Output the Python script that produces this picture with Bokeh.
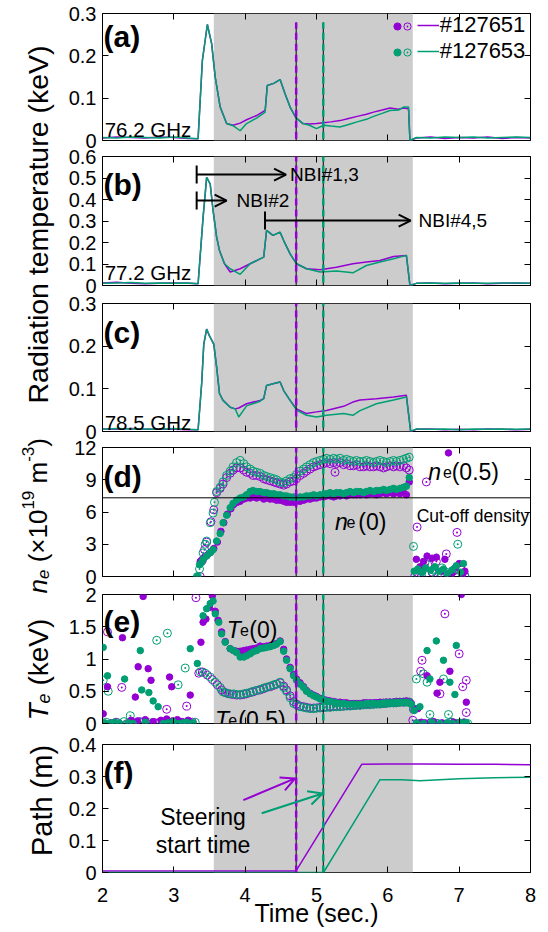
import math
from bokeh.plotting import figure
from bokeh.models import (Range1d, LinearAxis, FixedTicker, BoxAnnotation, Span, Arrow,
                          OpenHead, TeeHead, Label, Legend, LegendItem, CustomLabelingPolicy)
from bokeh.layouts import column, row
from bokeh.embed import file_html
from bokeh.resources import INLINE

FONT = "Liberation Sans"
PURPLE = "#9400D3"
GREEN = "#009E73"
SHADE = "#CCCCCC"
TICK_FS = "20px"

# ------------------------------------------------------------------ data
x_ticks = [2, 3, 4, 5, 6, 7, 8]
nbi_window = [3.56, 6.35]
steer_start_p = 4.715
steer_start_g = 5.095
cutoff_density = 7.32

# (a) 76.2 GHz
t_a = [2.00, 2.20, 2.40, 2.60, 2.80, 3.00, 3.20, 3.34, 3.40, 3.47, 3.53, 3.58, 3.65, 3.74, 3.83,
       3.93, 4.02, 4.16, 4.28, 4.31, 4.40, 4.49, 4.56, 4.63, 4.71, 4.81, 4.90, 5.00, 5.10, 5.20,
       5.33, 5.45, 5.57, 5.70, 5.80, 5.92, 6.03, 6.15, 6.22, 6.29, 6.31, 6.40, 6.60, 6.80, 7.00,
       7.20, 7.40, 7.60, 7.80, 8.00]
a_127651 = [0.006, 0.008, 0.007, 0.006, 0.008, 0.007, 0.005, 0.004, 0.189, 0.274, 0.229, 0.150,
            0.079, 0.040, 0.036, 0.041, 0.049, 0.059, 0.071, 0.130, 0.135, 0.144, 0.110, 0.079,
            0.054, 0.040, 0.039, 0.040, 0.042, 0.044, 0.047, 0.052, 0.057, 0.062, 0.067, 0.072,
            0.077, 0.074, 0.077, 0.075, 0.000, 0.006, 0.008, 0.005, 0.007, 0.006, 0.008, 0.005,
            0.007, 0.006]
a_127653 = [0.007, 0.006, 0.008, 0.007, 0.006, 0.008, 0.006, 0.004, 0.189, 0.274, 0.229, 0.150,
            0.079, 0.040, 0.035, 0.023, 0.040, 0.053, 0.067, 0.130, 0.135, 0.144, 0.110, 0.079,
            0.054, 0.040, 0.036, 0.028, 0.036, 0.034, 0.032, 0.038, 0.044, 0.050, 0.057, 0.064,
            0.071, 0.072, 0.079, 0.079, 0.000, 0.007, 0.006, 0.008, 0.007, 0.008, 0.006, 0.007,
            0.008, 0.007]

# (b) 77.2 GHz
t_b = [2.00, 2.20, 2.40, 2.60, 2.80, 3.00, 3.20, 3.34, 3.41, 3.46, 3.51, 3.55, 3.60, 3.64, 3.71,
       3.79, 3.93, 4.07, 4.21, 4.26, 4.30, 4.39, 4.49, 4.54, 4.63, 4.72, 4.86, 5.05, 5.28, 5.51,
       5.70, 5.89, 6.08, 6.26, 6.31, 6.40, 6.60, 6.80, 7.00, 7.20, 7.40, 7.60, 7.80, 8.00]
b_127651 = [0.012, 0.015, 0.010, 0.008, 0.010, 0.012, 0.010, 0.008, 0.317, 0.503, 0.472, 0.349,
            0.225, 0.163, 0.101, 0.063, 0.078, 0.101, 0.124, 0.132, 0.256, 0.233, 0.248, 0.209,
            0.147, 0.101, 0.078, 0.073, 0.085, 0.101, 0.109, 0.116, 0.135, 0.140, 0.000, 0.010,
            0.012, 0.008, 0.010, 0.012, 0.008, 0.010, 0.012, 0.010]
b_127653 = [0.010, 0.012, 0.014, 0.010, 0.012, 0.010, 0.012, 0.008, 0.317, 0.503, 0.472, 0.349,
            0.225, 0.163, 0.101, 0.078, 0.052, 0.101, 0.124, 0.132, 0.256, 0.233, 0.248, 0.209,
            0.147, 0.101, 0.078, 0.063, 0.067, 0.059, 0.093, 0.109, 0.124, 0.140, 0.000, 0.010,
            0.012, 0.010, 0.012, 0.010, 0.010, 0.012, 0.012, 0.010]

# (c) 78.5 GHz
t_c = [2.00, 2.20, 2.40, 2.60, 2.80, 3.00, 3.20, 3.34, 3.39, 3.42, 3.46, 3.50, 3.56, 3.60, 3.64,
       3.69, 3.79, 3.86, 3.91, 4.02, 4.21, 4.26, 4.30, 4.39, 4.49, 4.54, 4.63, 4.72, 4.86, 5.00,
       5.14, 5.38, 5.51, 5.61, 5.84, 6.08, 6.26, 6.32, 6.40, 6.60, 6.80, 7.00, 7.20, 7.40, 7.60,
       7.80, 8.00]
c_127651 = [0.006, 0.005, 0.007, 0.005, 0.006, 0.005, 0.004, 0.004, 0.112, 0.205, 0.240, 0.224,
            0.205, 0.151, 0.089, 0.073, 0.057, 0.053, 0.055, 0.065, 0.073, 0.077, 0.108, 0.112,
            0.116, 0.096, 0.073, 0.053, 0.042, 0.046, 0.049, 0.059, 0.069, 0.074, 0.077, 0.081,
            0.085, 0.000, 0.005, 0.006, 0.004, 0.005, 0.004, 0.006, 0.005, 0.004, 0.005]
c_127653 = [0.005, 0.007, 0.006, 0.006, 0.005, 0.007, 0.005, 0.004, 0.112, 0.205, 0.240, 0.224,
            0.205, 0.151, 0.089, 0.073, 0.057, 0.053, 0.034, 0.060, 0.071, 0.077, 0.108, 0.112,
            0.116, 0.096, 0.073, 0.050, 0.038, 0.034, 0.038, 0.042, 0.038, 0.049, 0.065, 0.074,
            0.081, 0.000, 0.006, 0.005, 0.006, 0.004, 0.006, 0.005, 0.006, 0.005, 0.006]

# common sampling times of the profile data inside the NBI window
t_prof = [3.93, 3.98, 4.02, 4.07, 4.11, 4.16, 4.21, 4.26, 4.30, 4.35,
          4.40, 4.44, 4.49, 4.54, 4.58, 4.63, 4.68, 4.72, 4.77, 4.82,
          4.86, 4.91, 4.96, 5.00, 5.05, 5.10, 5.14, 5.19, 5.24, 5.28,
          5.33, 5.38, 5.42, 5.47, 5.52, 5.56, 5.61, 5.66, 5.70, 5.75,
          5.80, 5.84, 5.89, 5.94, 5.98, 6.03, 6.08, 6.12, 6.17, 6.22,
          6.26, 6.30]

# (d) n_e(0) filled, n_e(0.5) open
ne0_127653 = [7.3, 7.4, 7.6, 7.9, 8.0, 7.9, 7.9, 7.8, 7.8, 7.7,
              7.7, 7.6, 7.6, 7.5, 7.5, 7.4, 7.4, 7.3, 7.4, 7.4,
              7.5, 7.5, 7.6, 7.5, 7.6, 7.6, 7.7, 7.8, 7.7, 7.8,
              7.8, 7.7, 7.8, 7.9, 7.8, 7.9, 7.9, 7.8, 7.9, 8.0,
              7.9, 8.0, 8.0, 8.1, 8.0, 8.1, 8.2, 8.1, 8.2, 8.3,
              8.4, 9.2]
ne0_127651 = [7.0, 7.2, 7.3, 7.3, 7.4, 7.3, 7.4, 7.2, 7.3, 7.2,
              7.2, 7.1, 7.1, 7.0, 6.9, 6.9, 6.9, 7.0, 7.0, 7.1,
              7.2, 7.2, 7.3, 7.3, 7.4, 7.4, 7.5, 7.5, 7.4, 7.5,
              7.5, 7.6, 7.5, 7.6, 7.6, 7.6, 7.6, 7.7, 7.6, 7.7,
              7.7, 7.6, 7.7, 7.8, 7.7, 7.8, 7.7, 7.8, 7.7, 7.8,
              7.6, 8.8]
ne05_127653 = [10.8, 10.5, 10.2, 10.0, 9.8, 9.7, 9.6, 9.4, 9.3, 9.2,
               9.1, 9.0, 8.8, 8.7, 8.9, 9.1, 9.2, 9.5, 9.8, 10.0,
               10.2, 10.4, 10.6, 10.7, 10.8, 10.9, 11.0, 10.9, 11.0, 10.9,
               11.0, 10.8, 10.9, 10.8, 10.7, 10.8, 10.7, 10.7, 10.8, 10.7,
               10.6, 10.7, 10.8, 10.7, 10.6, 10.7, 10.8, 10.7, 10.8, 10.9,
               11.0, 11.1]
ne05_127651 = [10.1, 9.9, 9.7, 9.6, 9.4, 9.4, 9.3, 9.1, 9.0, 8.9,
               8.8, 8.7, 8.6, 8.5, 8.6, 8.8, 8.9, 9.1, 9.4, 9.6,
               9.8, 10.0, 10.2, 10.3, 10.4, 10.5, 10.6, 10.5, 10.6, 10.5,
               10.6, 10.4, 10.5, 10.3, 10.3, 10.4, 10.2, 10.2, 10.3, 10.2,
               10.2, 10.3, 10.2, 10.1, 10.2, 10.3, 10.2, 10.3, 10.2, 10.3,
               10.1, 9.9]
# points outside the common window (ramp-up and after the discharge)
ne0_127653_xt = [3.33, 3.36, 3.39, 3.41, 3.46, 3.51, 3.55, 3.60, 3.65, 3.69, 3.74, 3.79, 3.83, 3.88,
                 6.37, 6.42, 6.48, 6.53, 6.60, 6.66, 6.72, 6.78, 6.84, 6.90, 6.96, 7.02, 7.06]
ne0_127653_xv = [0.0, 1.1, 1.3, 1.6, 1.9, 2.2, 2.5, 3.3, 4.0, 5.0, 5.7, 6.4, 6.8, 7.1,
                 0.5, 0.7, 0.4, 0.8, 0.6, 0.9, 0.5, 0.7, 0.3, 0.6, 1.0, 0.4, 1.2]
ne0_127651_xt = [3.37, 3.40, 3.43, 3.47, 3.52, 3.56, 3.61, 3.66, 3.70, 3.75, 3.80, 3.84, 3.89,
                 6.40, 6.45, 6.50, 6.55, 6.62, 6.68, 6.75, 6.80, 6.85, 6.90, 6.95, 7.00, 7.05, 7.08]
ne0_127651_xv = [1.4, 1.6, 1.8, 2.0, 2.3, 2.6, 3.2, 4.2, 5.0, 5.8, 6.3, 6.7, 6.9,
                 1.6, 0.9, 1.4, 1.9, 1.7, 1.8, 0.5, 1.6, 11.5, 0.3, 0.8, 1.2, 0.2, 0.5]
ne05_127653_xt = [3.33, 3.36, 3.41, 3.44, 3.46, 3.51, 3.55, 3.57, 3.60, 3.65, 3.69, 3.74, 3.79, 3.83, 3.88,
                  6.36, 6.41, 6.47, 6.52, 6.58, 6.64, 6.70, 6.76, 6.82, 6.88, 6.94, 6.98, 7.04, 7.08]
ne05_127653_xv = [0.0, 0.7, 2.2, 3.0, 3.3, 5.0, 5.9, 6.9, 7.9, 8.3, 8.8, 9.4, 9.8, 10.2, 10.6,
                  2.8, 0.3, 0.5, 1.3, 0.2, 0.6, 0.1, 0.8, 0.4, 0.2, 0.7, 3.0, 0.3, 0.1]
ne05_127651_xt = [3.37, 3.40, 3.43, 3.46, 3.52, 3.56, 3.60, 3.65, 3.69, 3.74, 3.79, 3.83, 3.88, 5.26,
                  6.38, 6.41, 6.46, 6.54, 6.56, 6.62, 6.68, 6.74, 6.82, 6.86, 6.92, 6.97, 7.03, 7.08]
ne05_127651_xv = [0.0, 1.5, 2.5, 3.2, 5.1, 6.2, 7.8, 8.2, 8.6, 9.2, 9.6, 9.9, 10.1, 9.7,
                  0.1, 4.6, 0.3, 8.8, 1.1, 0.4, 1.4, 0.0, 2.1, 0.2, 0.5, 4.1, 0.6, 0.0]

# (e) T_e(0) filled, T_e(0.5) open
te0_127653 = [1.03, 1.03, 1.05, 1.08, 1.11, 1.13, 1.16, 1.17, 1.18, 1.19,
              1.21, 1.23, 1.27, 1.12, 0.98, 0.85, 0.74, 0.67, 0.61, 0.56,
              0.50, 0.46, 0.43, 0.41, 0.38, 0.36, 0.35, 0.34, 0.33, 0.32,
              0.31, 0.31, 0.30, 0.30, 0.30, 0.30, 0.30, 0.30, 0.31, 0.31,
              0.31, 0.31, 0.31, 0.32, 0.32, 0.32, 0.32, 0.33, 0.33, 0.33,
              0.33, 0.32]
te0_127651 = [1.12, 1.13, 1.14, 1.15, 1.16, 1.17, 1.20, 1.19, 1.20, 1.21,
              1.22, 1.24, 1.28, 1.15, 1.00, 0.87, 0.76, 0.69, 0.63, 0.57,
              0.51, 0.47, 0.44, 0.42, 0.39, 0.37, 0.36, 0.35, 0.34, 0.33,
              0.33, 0.32, 0.32, 0.31, 0.31, 0.31, 0.31, 0.32, 0.32, 0.32,
              0.32, 0.32, 0.33, 0.33, 0.33, 0.33, 0.33, 0.34, 0.34, 0.34,
              0.34, 0.33]
te05_127653 = [0.45, 0.46, 0.47, 0.48, 0.50, 0.51, 0.53, 0.55, 0.56, 0.58,
               0.60, 0.61, 0.64, 0.56, 0.50, 0.40, 0.31, 0.29, 0.26, 0.25,
               0.24, 0.23, 0.23, 0.24, 0.24, 0.25, 0.25, 0.25, 0.26, 0.26,
               0.26, 0.27, 0.27, 0.27, 0.28, 0.28, 0.28, 0.29, 0.29, 0.29,
               0.30, 0.30, 0.30, 0.31, 0.31, 0.32, 0.32, 0.32, 0.33, 0.33,
               0.33, 0.33]
te05_127651 = [0.44, 0.45, 0.46, 0.48, 0.49, 0.51, 0.52, 0.54, 0.56, 0.57,
               0.59, 0.61, 0.63, 0.58, 0.52, 0.43, 0.34, 0.30, 0.27, 0.26,
               0.25, 0.24, 0.24, 0.24, 0.25, 0.25, 0.26, 0.26, 0.26, 0.27,
               0.27, 0.27, 0.28, 0.28, 0.28, 0.29, 0.29, 0.29, 0.30, 0.30,
               0.30, 0.31, 0.31, 0.31, 0.32, 0.32, 0.32, 0.33, 0.33, 0.33,
               0.34, 0.33]
te0_127653_xt = [3.41, 3.46, 3.51, 3.55, 3.58, 3.63, 3.67, 3.72, 3.79, 3.84, 3.88,
                 2.01, 2.07, 2.31, 2.53, 2.55, 2.65, 2.71, 2.78, 3.23, 3.33,
                 2.03, 2.10, 2.17, 2.24, 2.36, 2.43, 2.60, 2.85, 2.92, 2.99, 3.06, 3.13, 3.18, 3.27,
                 6.33, 6.37, 6.45, 6.55, 6.59, 6.68, 6.78, 6.87, 6.94, 6.96,
                 6.40, 6.50, 6.62, 6.73, 6.83, 6.91, 7.01, 7.06, 7.10]
te0_127653_xv = [1.67, 1.78, 1.86, 1.90, 1.70, 1.57, 1.39, 1.26, 1.16, 1.13, 1.10,
                 1.18, 0.74, 0.69, 1.13, 0.52, 0.48, 0.35, 0.26, 1.16, 0.93,
                 0.01, 0.00, 0.02, 0.00, 0.01, 0.00, 0.02, 0.00, 0.01, 0.03, 0.00, 0.01, 0.02, 0.01,
                 0.30, 0.20, 0.26, 1.13, 0.69, 1.28, 0.98, 0.64, 0.45, 1.21,
                 0.01, 0.00, 0.02, 0.00, 0.01, 0.00, 0.02, 0.00, 0.01]
te0_127651_xt = [3.38, 3.41, 3.45, 3.50, 3.54, 3.58, 3.62, 3.67, 3.72, 3.79, 3.84, 3.88,
                 2.01, 2.07, 2.28, 2.46, 2.50, 2.57, 2.64, 2.68, 2.94, 2.97, 3.23,
                 2.40, 2.49, 2.60, 2.71, 2.82, 2.90, 2.98, 3.05, 3.12, 3.20,
                 6.33, 6.37, 6.42, 6.55, 6.69, 6.73, 6.87, 7.03, 7.10,
                 6.47, 6.52, 6.64, 6.76, 6.80, 6.92, 6.99, 7.07]
te0_127651_xv = [1.26, 1.57, 1.62, 1.80, 1.98, 1.74, 1.60, 1.42, 1.27, 1.16, 1.13, 1.12,
                 0.15, 0.57, 1.33, 0.41, 0.88, 1.97, 0.85, 0.67, 0.72, 0.57, 0.44,
                 0.05, 0.04, 0.06, 0.03, 0.05, 0.07, 0.04, 0.06, 0.03, 0.05,
                 0.31, 0.22, 0.23, 0.74, 0.47, 0.64, 0.81, 2.00, 0.33,
                 0.02, 0.00, 0.03, 0.01, 0.00, 0.02, 0.00, 0.01]
te05_127653_xt = [3.37, 3.44, 3.51, 3.58, 3.65, 3.69, 3.74, 3.79, 3.84, 3.88,
                  2.01, 2.08, 2.39, 2.76, 2.91, 3.06, 3.16,
                  2.05, 2.14, 2.22, 2.30, 2.46, 2.55, 2.66, 2.83, 2.97, 3.10, 3.22, 3.30,
                  6.36, 6.40, 6.50, 6.55, 6.59, 6.78, 6.85,
                  6.44, 6.62, 6.70, 6.90, 6.98, 7.08, 7.12]
te05_127653_xv = [0.80, 0.78, 0.72, 0.64, 0.56, 0.49, 0.47, 0.46, 0.46, 0.45,
                  0.67, 0.50, 0.12, 1.29, 1.40, 0.60, 0.86,
                  0.02, 0.00, 0.01, 0.03, 0.00, 0.02, 0.01, 0.00, 0.02, 0.01, 0.00, 0.02,
                  0.23, 0.69, 0.77, 0.64, 0.14, 0.69, 0.14,
                  0.00, 0.01, 0.00, 0.02, 0.00, 0.01, 0.00]
te05_127651_xt = [3.35, 3.40, 3.47, 3.54, 3.61, 3.67, 3.72, 3.77, 3.82, 3.88,
                  2.07, 2.27, 2.90, 3.18, 3.31,
                  2.12, 2.19, 2.35, 2.44, 2.52, 2.62, 2.74, 2.80, 3.02, 3.08, 3.14, 3.26,
                  6.36, 6.46, 6.48, 6.73, 6.80, 7.00, 7.05, 7.10, 7.10,
                  6.35, 6.52, 6.60, 6.68, 6.88, 6.95, 7.06]
te05_127651_xv = [0.78, 0.80, 0.75, 0.68, 0.60, 0.52, 0.48, 0.46, 0.45, 0.44,
                  1.42, 0.56, 0.22, 0.27, 1.95,
                  0.00, 0.02, 0.00, 0.01, 0.03, 0.00, 0.01, 0.02, 0.00, 0.01, 0.00, 0.02,
                  0.22, 0.81, 0.98, 0.46, 1.70, 1.08, 0.57, 0.67, 0.17,
                  0.05, 0.00, 0.01, 0.00, 0.02, 0.00, 0.01]

# (f) ECE path
path_t_127651 = [2.0, 3.0, 4.0, 4.713, 5.634, 6.0, 6.5, 7.0, 7.5, 8.0]
path_127651 = [0.005, 0.005, 0.005, 0.005, 0.338, 0.339, 0.339, 0.338, 0.338, 0.337]
path_t_127653 = [2.0, 3.0, 4.0, 5.098, 5.89, 6.2, 6.45, 7.0, 7.5, 8.0]
path_127653 = [0.0, 0.0, 0.0, 0.0, 0.290, 0.290, 0.287, 0.293, 0.296, 0.298]

# ------------------------------------------------------------------ helpers
xr = Range1d(2, 8)
NO_LABELS = CustomLabelingPolicy(code="for (const i of indices) { indices.unset(i) }")
LABEL_COL_W = 60
PANEL_W = 480
PANEL_BL = 42


def style_ax(ax, ticks, show):
    ax.ticker = FixedTicker(ticks=ticks)
    ax.major_label_overrides = {t: f"{t:g}" for t in ticks}
    ax.major_tick_in = 6
    ax.major_tick_out = 0
    ax.major_tick_line_color = "black"
    ax.minor_tick_line_color = None
    ax.axis_line_color = None
    ax.major_label_text_font = FONT
    ax.major_label_text_color = "black"
    if show:
        ax.major_label_text_font_size = TICK_FS
        ax.major_label_standoff = 6
    else:
        ax.major_label_text_font_size = "0px"
        ax.major_label_standoff = 0
        ax.major_label_policy = NO_LABELS


def make_panel(ymax, yticks, top, fh, bottom, xlabels=False):
    p = figure(width=PANEL_W, height=top + fh + bottom, x_range=xr, y_range=Range1d(0, ymax),
               output_backend="svg", toolbar_location=None,
               min_border_left=PANEL_BL, min_border_right=10,
               min_border_top=top, min_border_bottom=bottom)
    p.grid.visible = False
    p.outline_line_color = "black"
    p.outline_line_alpha = 1.0
    p.background_fill_color = "white"
    p.border_fill_color = "white"
    p.add_layout(LinearAxis(), "right")
    p.add_layout(LinearAxis(), "above")
    style_ax(p.left[0], yticks, True)
    style_ax(p.right[0], yticks, False)
    style_ax(p.below[0], x_ticks, xlabels)
    style_ax(p.above[0], x_ticks, False)
    p.add_layout(BoxAnnotation(left=nbi_window[0], right=nbi_window[1], fill_color=SHADE,
                               fill_alpha=1.0, line_color=None, level="underlay"))
    return p


def add_steer(p, lo, hi):
    for x, c in ((steer_start_p, PURPLE), (steer_start_g, GREEN)):
        p.add_layout(Arrow(end=None, x_start=x, x_end=x, y_start=lo, y_end=hi,
                           line_color="black", line_width=1))
        p.add_layout(Arrow(end=None, x_start=x, x_end=x, y_start=lo, y_end=hi,
                           line_color=c, line_width=2.5, line_dash="7 4"))


def txt(p, x, y, text, size, style="normal", align="left", baseline="alphabetic"):
    p.add_layout(Label(x=x, y=y, text=text, text_font=FONT, text_font_size=f"{size}px",
                       text_font_style=style, text_align=align, text_baseline=baseline,
                       text_color="black"))


# ------------------------------------------------------------------ panels
pa = make_panel(0.3, [0, 0.1, 0.2, 0.3], 13, 127, 8)
pb = make_panel(0.6, [0, 0.1, 0.2, 0.3, 0.4, 0.5, 0.6], 8, 129, 9)
pc = make_panel(0.3, [0, 0.1, 0.2, 0.3], 9, 128, 8)
pd = make_panel(12, [0, 3, 6, 9, 12], 8, 129, 9)
pe = make_panel(2, [0, 0.5, 1, 1.5, 2], 9, 129, 11)
pf = make_panel(0.4, [0, 0.1, 0.2, 0.3, 0.4], 10, 128, 59, xlabels=True)

ax = pf.below[0]
ax.major_label_standoff = 15
ax.axis_label = "Time (sec.)"
ax.axis_label_text_font = FONT
ax.axis_label_text_font_size = "25px"
ax.axis_label_text_font_style = "normal"
ax.axis_label_text_color = "black"
ax.axis_label_standoff = -6

LW = 1.5
la_p = pa.line(t_a, a_127651, color=PURPLE, line_width=LW)
la_g = pa.line(t_a, a_127653, color=GREEN, line_width=LW)
pb.line(t_b, b_127651, color=PURPLE, line_width=LW)
pb.line(t_b, b_127653, color=GREEN, line_width=LW)
pc.line(t_c, c_127651, color=PURPLE, line_width=LW)
pc.line(t_c, c_127653, color=GREEN, line_width=LW)


def dots(p, t, v, c, filled):
    if filled:
        p.scatter(t, v, marker="circle", size=6.5, fill_color=c, line_color=c)
    else:
        p.scatter(t, v, marker="circle_dot", size=8, fill_color=None, line_color=c,
                  line_width=1)


dots(pd, t_prof + ne05_127651_xt, ne05_127651 + ne05_127651_xv, PURPLE, False)
dots(pd, t_prof + ne05_127653_xt, ne05_127653 + ne05_127653_xv, GREEN, False)
dots(pd, t_prof + ne0_127651_xt, ne0_127651 + ne0_127651_xv, PURPLE, True)
dots(pd, t_prof + ne0_127653_xt, ne0_127653 + ne0_127653_xv, GREEN, True)
pd.add_layout(Span(location=cutoff_density, dimension="width", line_color="black", line_width=1))

dots(pe, t_prof + te05_127651_xt, te05_127651 + te05_127651_xv, PURPLE, False)
dots(pe, t_prof + te05_127653_xt, te05_127653 + te05_127653_xv, GREEN, False)
dots(pe, t_prof + te0_127651_xt, te0_127651 + te0_127651_xv, PURPLE, True)
dots(pe, t_prof + te0_127653_xt, te0_127653 + te0_127653_xv, GREEN, True)

pf.line(path_t_127651, path_127651, color=PURPLE, line_width=LW)
pf.line(path_t_127653, path_127653, color=GREEN, line_width=LW)

# steering-start lines through all panels
add_steer(pa, -0.1, 0.279)
add_steer(pb, -0.6, 1.2)
add_steer(pc, -0.3, 0.6)
add_steer(pd, -12, 24)
add_steer(pe, -2, 4)
add_steer(pf, 0, 0.8)

# panel letters and frequency labels
txt(pa, 2.014, 0.246, "(a)", 30, "bold")
txt(pb, 2.014, 0.471, "(b)", 30, "bold")
txt(pc, 2.014, 0.232, "(c)", 30, "bold")
txt(pd, 2.014, 9.33, "(d)", 30, "bold")
txt(pe, 2.014, 1.586, "(e)", 30, "bold")
txt(pf, 2.014, 0.313, "(f)", 30, "bold")
txt(pa, 2.03, 0.026, "76.2 GHz", 20.5)
txt(pb, 2.03, 0.062, "77.2 GHz", 20.5)
txt(pc, 2.03, 0.022, "78.5 GHz", 20.5)

# NBI timing arrows in (b)
for xs, xe, y, lab_text, xl in ((3.32, 4.573, 0.516, "NBI#1,3", 4.63),
                                (3.32, 3.74, 0.395, "NBI#2", 3.88),
                                (4.278, 6.32, 0.302, "NBI#4,5", 6.43)):
    pb.add_layout(Arrow(start=TeeHead(size=18, line_width=2, line_color="black"),
                        end=OpenHead(size=12, line_width=2, line_color="black"),
                        x_start=xs, y_start=y, x_end=xe, y_end=y,
                        line_color="black", line_width=2))
    txt(pb, xl, y, lab_text, 19, baseline="middle")

# density labels in (d)
txt(pd, 6.567, 9.70, "n", 23, "italic")
txt(pd, 6.775, 9.70, "e", 16)
txt(pd, 6.895, 9.70, "(0.5)", 23)
txt(pd, 5.26, 5.05, "n", 23, "italic")
txt(pd, 5.42, 5.05, "e", 16)
txt(pd, 5.586, 5.05, "(0)", 23)
txt(pd, 6.405, 5.67, "Cut-off density", 17.5)

# temperature labels in (e)
txt(pe, 3.741, 1.452, "T", 23, "italic")
txt(pe, 3.928, 1.452, "e", 16)
txt(pe, 4.058, 1.452, "(0)", 23)
txt(pe, 3.577, 0.047, "T", 23, "italic")
txt(pe, 3.764, 0.047, "e", 16)
txt(pe, 3.904, 0.047, "(0.5)", 23)

# steering annotation in (f)
pf.add_layout(Arrow(end=OpenHead(size=14, line_width=2, line_color=PURPLE),
                    x_start=3.974, y_start=0.226, x_end=4.70, y_end=0.294,
                    line_color=PURPLE, line_width=2))
pf.add_layout(Arrow(end=OpenHead(size=14, line_width=2, line_color=GREEN),
                    x_start=4.232, y_start=0.185, x_end=5.085, y_end=0.247,
                    line_color=GREEN, line_width=2))
txt(pf, 3.41, 0.175, "Steering", 23, align="center")
txt(pf, 3.41, 0.087, "start time", 23, align="center")

# legend in (a)
nan = float("nan")
r_fp = pa.scatter([nan], [nan], marker="circle", fill_color=PURPLE, line_color=PURPLE)
r_op = pa.scatter([nan], [nan], marker="circle_dot", fill_color=None, line_color=PURPLE)
r_fg = pa.scatter([nan], [nan], marker="circle", fill_color=GREEN, line_color=GREEN)
r_og = pa.scatter([nan], [nan], marker="circle_dot", fill_color=None, line_color=GREEN)


def legend_common(**kw):
    base = dict(padding=0, margin=0, border_line_color=None, background_fill_alpha=0.0,
                label_text_font=FONT, label_text_color="black")
    base.update(kw)
    return Legend(**base)


for (rf, ro, rl, name, vy_m, vy_l) in ((r_fp, r_op, la_p, "#127651", 105.3, 102.3),
                                       (r_fg, r_og, la_g, "#127653", 79.3, 76.3)):
    for r, vx in ((rf, 285.7), (ro, 296.0)):
        pa.add_layout(legend_common(items=[LegendItem(label=" ", renderers=[r])],
                                    location=(vx, vy_m), glyph_width=18, glyph_height=18,
                                    label_width=0, label_height=0, label_standoff=0,
                                    label_text_font_size="1px"))
    pa.add_layout(legend_common(items=[LegendItem(label=name, renderers=[rl])],
                                location=(314.7, vy_l), glyph_width=22, glyph_height=24,
                                label_height=24, label_standoff=1, label_text_font_size="22px"))

# ------------------------------------------------------------------ y-axis titles column
LH = 880
lab = figure(width=LABEL_COL_W, height=LH, x_range=Range1d(0, LABEL_COL_W),
             y_range=Range1d(LH, 0),
             output_backend="svg", toolbar_location=None, min_border=0,
             x_axis_location=None, y_axis_location=None)
lab.grid.visible = False
lab.outline_line_color = None
lab.background_fill_color = "white"
lab.border_fill_color = "white"

AW = {'n': 0.556, 'e': 0.556, ' ': 0.278, '(': 0.333, ')': 0.333, '×': 0.584, '1': 0.556,
      '0': 0.556, '9': 0.556, 'm': 0.833, '-': 0.333, '3': 0.556, 'T': 0.611, 'k': 0.5, 'V': 0.667}


def vlabel(x_base, y_start, pieces):
    y = y_start
    for text, size, style, dx, gap in pieces:
        y -= gap
        lab.add_layout(Label(x=x_base + dx, y=y, text=text, angle=math.pi / 2, text_align="left",
                             text_baseline="alphabetic", text_font=FONT,
                             text_font_size=f"{size}px", text_font_style=style,
                             text_color="black"))
        y -= sum(AW.get(ch, 0.556) for ch in text) * size


lab.add_layout(Label(x=37, y=224, text="Radiation temperature (keV)", angle=math.pi / 2,
                     text_align="center", text_baseline="alphabetic", text_font=FONT,
                     text_font_size="28.5px", text_color="black"))
vlabel(37, 593, [("n", 26, "italic", 0, 0), ("e", 17, "italic", 5, 0),
                 ("(×10", 26, "normal", 0, 0.278 * 26), ("19", 17, "normal", -10, 0),
                 ("m", 26, "normal", 0, 0.278 * 26), ("-3", 17, "normal", -10, 0),
                 (")", 26, "normal", 0, 0)])
vlabel(38, 720, [("T", 28, "italic", 0, 0), ("e", 18, "italic", 5, 0),
                 ("(keV)", 28, "normal", 0, 0.278 * 28)])
lab.add_layout(Label(x=41.7, y=800, text="Path (m)", angle=math.pi / 2,
                     text_align="center", text_baseline="alphabetic", text_font=FONT,
                     text_font_size="29px", text_color="black"))

layout = row(lab, column(pa, pb, pc, pd, pe, pf))
open("out.html", "w").write(file_html(layout, INLINE))
